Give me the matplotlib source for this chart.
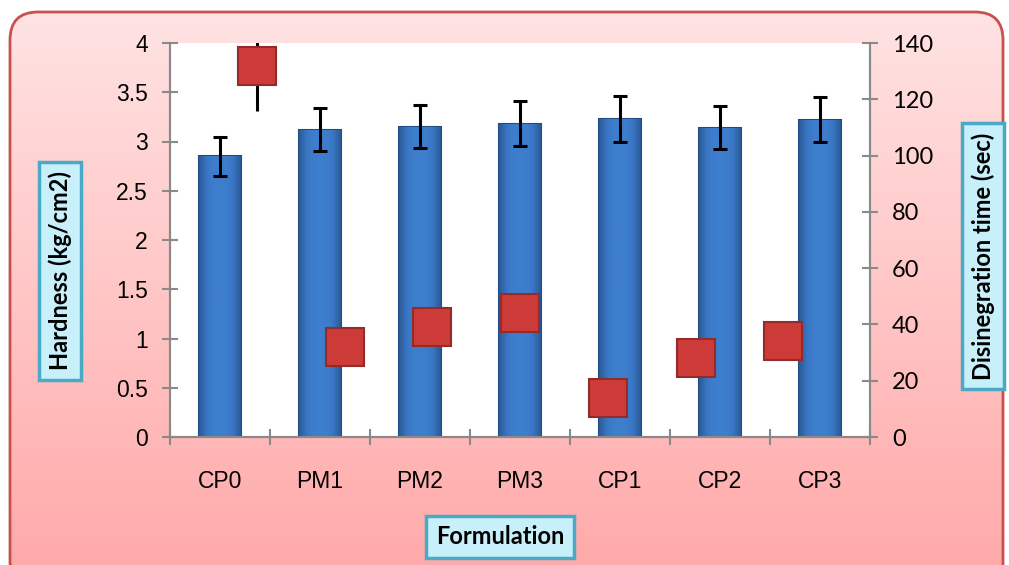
import matplotlib
matplotlib.use("Agg")
import matplotlib.pyplot as plt
import numpy as np
from matplotlib.patches import FancyBboxPatch

# data
formulations = ["CP0", "PM1", "PM2", "PM3", "CP1", "CP2", "CP3"]
hardness = [2.85, 3.12, 3.15, 3.18, 3.23, 3.14, 3.22]
hardness_err = [0.20, 0.22, 0.22, 0.23, 0.23, 0.22, 0.23]
disint_time = [132, 32, 39, 44, 14, 28, 34]
disint_err = [16, 5, 5, 5, 5, 5, 5]

W, H = 1009, 565
fig = plt.figure(figsize=(W / 100, H / 100), dpi=100)

# pink rounded background with gradient
bg = fig.add_axes([0, 0, 1, 1], zorder=-10)
bg.set_xlim(0, W); bg.set_ylim(H, 0); bg.axis("off")
frame = FancyBboxPatch((10, 12), 993, 580, boxstyle="round,pad=0,rounding_size=28",
                       facecolor="none", edgecolor="#c8504d", lw=2, zorder=3)
bg.add_patch(frame)
grad = np.linspace(0, 1, 256)[:, None]
cmap = matplotlib.colors.LinearSegmentedColormap.from_list("pk", ["#ffe4e4", "#ffaaaa"])
im = bg.imshow(grad, cmap=cmap, extent=[0, W, H, 0], aspect="auto", zorder=1)
im.set_clip_path(frame)

ax = fig.add_axes([170 / W, 1 - 437 / H, 700 / W, 394 / H])
ax.set_facecolor("white")
x = np.arange(len(formulations)) + 0.5
bars = ax.bar(x, hardness, width=0.42, color="#3b79c6", edgecolor="#1f4c86", lw=1.5, zorder=2)
# soft shading across each bar (darker edges, flat lighter middle)
shade = matplotlib.colors.LinearSegmentedColormap.from_list(
    "bl", ["#2b5a98", "#3a78c6", "#3e7fcd", "#3e7fcd", "#3a78c6", "#2b5a98"])
for b in bars:
    bx, by, bw, bh = b.get_x(), b.get_y(), b.get_width(), b.get_height()
    g = ax.imshow(np.linspace(0, 1, 64)[None, :], cmap=shade, aspect="auto",
                  extent=[bx, bx + bw, by, by + bh], zorder=2.1)
    g.set_clip_path(b)
ax.errorbar(x, hardness, yerr=hardness_err, fmt="none", ecolor="black", elinewidth=2.2,
            capsize=5, capthick=2.2, zorder=3)
ax.set_xlim(0, 7)
ax.set_ylim(0, 4)
ax.set_yticks(np.arange(0, 4.01, 0.5))
ax.set_yticklabels(["0", "0.5", "1", "1.5", "2", "2.5", "3", "3.5", "4"])
ax.set_xticks(np.arange(0, 8))
ax.set_xticklabels([])
ax.set_xticks(x, minor=True)
ax.set_xticklabels(formulations, minor=True)
ax.tick_params(axis="x", which="minor", length=0, pad=24, labelsize=16.5)
ax.tick_params(axis="x", which="major", direction="inout", length=12, width=1.5, color="#8a8a8a")
ax.tick_params(axis="y", direction="inout", length=12, width=1.5, color="#8a8a8a",
               labelsize=16.5, pad=10)
for lab in ax.get_xticklabels(minor=True) + ax.get_yticklabels():
    lab.set_family("Liberation Sans")
ax.spines["top"].set_visible(False)
for s in ["left", "right", "bottom"]:
    ax.spines[s].set_color("#8a8a8a"); ax.spines[s].set_linewidth(1.5)

ax2 = ax.twinx()
ax2.set_ylim(0, 140)
ax2.set_yticks(np.arange(0, 141, 20))
# squares sit on their own (narrower) category spacing
xs = 0.87 + np.arange(len(formulations)) * 0.877
ax2.errorbar(xs, disint_time, yerr=disint_err, fmt="none", ecolor="black", elinewidth=2.2,
             capsize=0, zorder=2)
ax2.plot(xs, disint_time, "s", ms=27, mfc="#cd3b38", mec="#922b29", mew=1.5, ls="none", zorder=3)
ax2.tick_params(axis="y", direction="inout", length=12, width=1.5, color="#8a8a8a",
                labelsize=17, pad=10)
for lab in ax2.get_yticklabels():
    lab.set_family("Lato")
ax2.spines["top"].set_visible(False)
for s in ["left", "right", "bottom"]:
    ax2.spines[s].set_color("#8a8a8a"); ax2.spines[s].set_linewidth(1.5)

box = dict(boxstyle="square,pad=0.4", facecolor="#c8f0fb", edgecolor="#4aa9c4", lw=2.5)
fig.text(60 / W, 1 - 271 / H, "Hardness (kg/cm2)", rotation=90, ha="center", va="center",
         fontsize=17, fontweight="bold", family="Lato", bbox=box)
fig.text(983 / W, 1 - 256 / H, "Disinegration time (sec)", rotation=90, ha="center",
         va="center", fontsize=17, fontweight="bold", family="Lato", bbox=box)
fig.text(500 / W, 1 - 537 / H, "Formulation", ha="center", va="center",
         fontsize=17, fontweight="bold", family="Lato", bbox=box)

fig.savefig("out.png", dpi=100)
